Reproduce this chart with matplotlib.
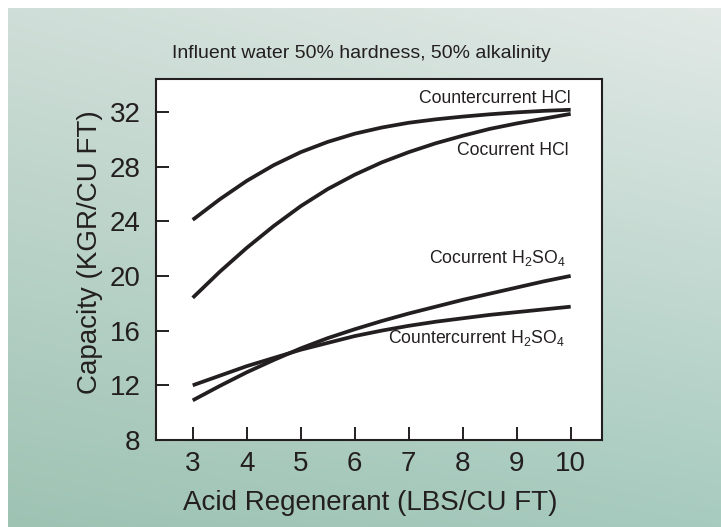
import numpy as np
import matplotlib
matplotlib.use('Agg')
import matplotlib.pyplot as plt

plt.rcParams['font.family'] = ['Liberation Sans', 'DejaVu Sans']
plt.rcParams['mathtext.fontset'] = 'custom'
plt.rcParams['mathtext.rm'] = 'Liberation Sans'
plt.rcParams['mathtext.it'] = 'Liberation Sans'

ink = '#231f20'

# acid dose (LBS/CU FT) and capacity (KGR/CU FT)
dose = [3, 3.5, 4, 4.5, 5, 5.5, 6, 6.5, 7, 7.5, 8, 8.5, 9, 9.5, 10]
counter_hcl = [24.1, 25.6, 26.95, 28.1, 29.05, 29.8, 30.4, 30.85, 31.2, 31.45,
               31.65, 31.82, 31.96, 32.07, 32.15]
co_hcl = [18.4, 20.3, 22.05, 23.65, 25.1, 26.35, 27.4, 28.3, 29.05, 29.7,
          30.25, 30.75, 31.15, 31.5, 31.85]
co_h2so4 = [10.9, 11.95, 12.95, 13.85, 14.7, 15.45, 16.1, 16.7, 17.25, 17.75,
            18.25, 18.7, 19.15, 19.6, 20.0]
counter_h2so4 = [12.0, 12.7, 13.4, 14.0, 14.6, 15.1, 15.6, 16.0, 16.35, 16.65,
                 16.9, 17.15, 17.35, 17.55, 17.75]
xticks = [3, 4, 5, 6, 7, 8, 9, 10]
yticks = [8, 12, 16, 20, 24, 28, 32]

fig = plt.figure(figsize=(7.21, 5.27), dpi=100)

# gradient panel behind everything (white strip on top and left)
bg = fig.add_axes([8 / 721, 0, 1 - 8 / 721, 1 - 8 / 527], zorder=-10)
tl = np.array([207, 222, 216]) / 255
tr = np.array([226, 233, 230]) / 255
bl = np.array([158, 195, 179]) / 255
br = np.array([167, 203, 191]) / 255
u = np.linspace(0, 1, 200)[None, :, None]
v = np.linspace(0, 1, 200)[:, None, None]
img = (1 - v) * ((1 - u) * tl + u * tr) + v * ((1 - u) * bl + u * br)
bg.imshow(img, aspect='auto', extent=[0, 1, 0, 1], origin='upper')
bg.axis('off')

ax = fig.add_axes([156 / 721, 1 - 440 / 527, 446 / 721, 361 / 527])
ax.set_facecolor('white')
for y in (counter_hcl, co_hcl, co_h2so4, counter_h2so4):
    ax.plot(dose, y, color=ink, lw=2.7, solid_capstyle='butt',
            solid_joinstyle='round')

ax.set_xlim(2.32, 10.58)
ax.set_ylim(8, 34.4)
ax.set_xticks(xticks)
ax.set_yticks(yticks)
ax.tick_params(direction='in', length=9.5, width=1.4, color=ink,
               labelsize=20, labelcolor=ink)
ax.tick_params(axis='y', pad=11)
ax.tick_params(axis='x', pad=8)
for s in ax.spines.values():
    s.set_linewidth(1.5)
    s.set_color(ink)

lab = dict(fontsize=12.7, color=ink, ha='right', va='baseline')
ax.text(10.0, 32.64, 'Countercurrent HCl', **lab)
ax.text(9.96, 28.83, 'Cocurrent HCl', **lab)
ax.text(9.9, 20.92, r'Cocurrent H$_2$SO$_4$', **lab)
ax.text(9.9, 15.07, r'Countercurrent H$_2$SO$_4$', **lab)

fig.text(361 / 721, 1 - 58 / 527, 'Influent water 50% hardness, 50% alkalinity',
         fontsize=14, color=ink, ha='center', va='baseline')
fig.text(370 / 721, 1 - 510 / 527, 'Acid Regenerant (LBS/CU FT)',
         fontsize=20, color=ink, ha='center', va='baseline')
fig.text(90 / 721, 1 - 252 / 527, 'Capacity (KGR/CU FT)', rotation=90,
         fontsize=20, color=ink, ha='center', va='center')

fig.savefig('out.png', dpi=100, facecolor='white')
